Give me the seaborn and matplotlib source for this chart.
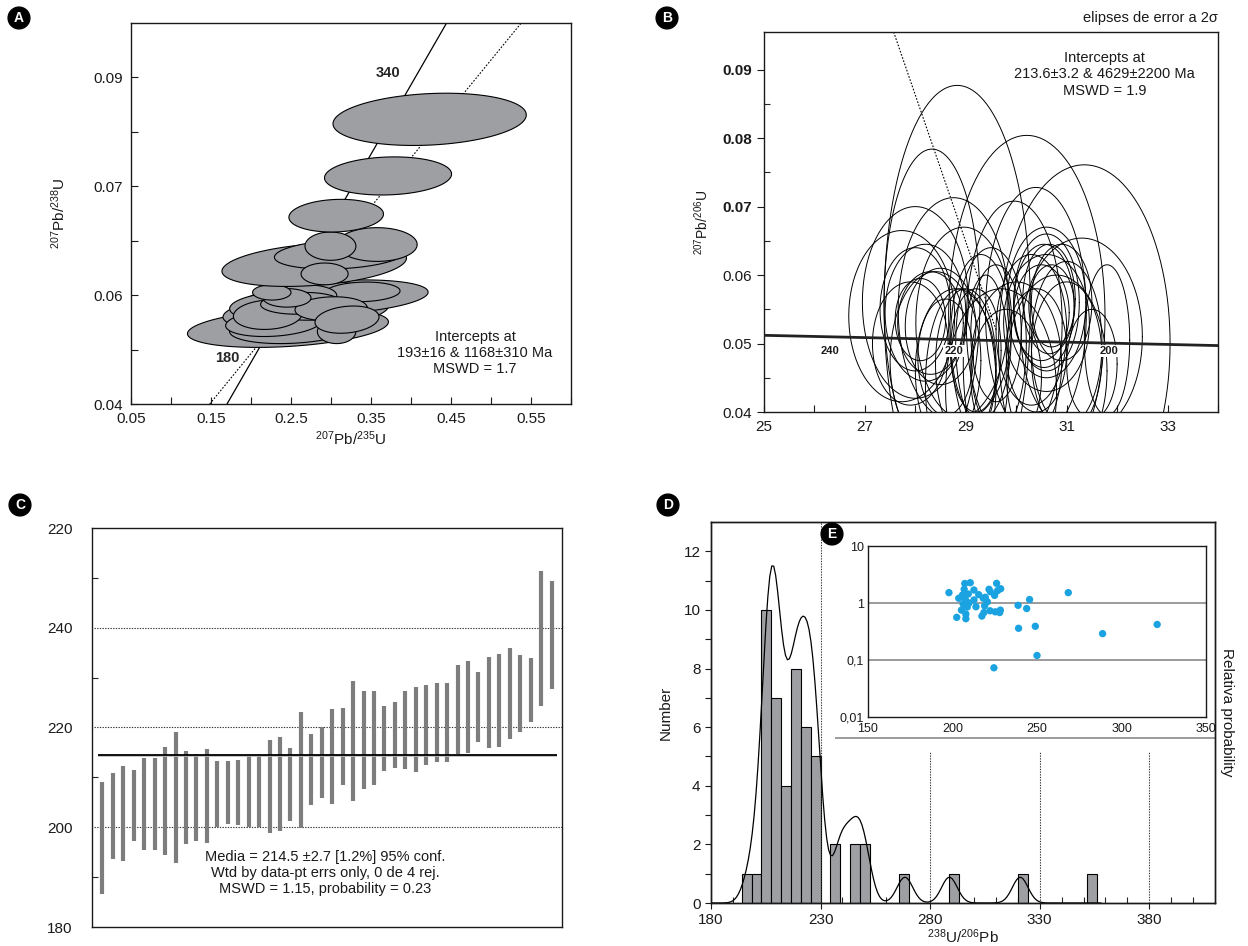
import numpy as np
import matplotlib
matplotlib.use("Agg")
import matplotlib.pyplot as plt
import seaborn as sns

# ---------------------------------------------------------------- data
# A: concordia ellipses (x centre, x half-axis, y centre, y half-axis, correlation)
a_x   = [0.2462, 0.2684, 0.3066, 0.2522, 0.2283, 0.2833, 0.2283, 0.2210, 0.3070, 0.2810,
         0.3396, 0.2642, 0.2620, 0.3000, 0.3200, 0.2450, 0.2260,
         0.2790, 0.3113, 0.3575, 0.2993, 0.2920, 0.3065, 0.3713, 0.4233]
a_sx  = [0.1256, 0.1034, 0.1148, 0.0790, 0.0600, 0.0622, 0.0550, 0.0430, 0.0240, 0.0646,
         0.0467, 0.0430, 0.0500, 0.0450, 0.0400, 0.0300, 0.0240,
         0.1153, 0.0820, 0.0502, 0.0318, 0.0294, 0.0591, 0.0794, 0.1208]
a_y   = [0.0540, 0.0570, 0.0596, 0.0539, 0.0549, 0.0573, 0.0580, 0.0564, 0.0533, 0.0600,
         0.0606, 0.0597, 0.0585, 0.0575, 0.0555, 0.0595, 0.0605,
         0.0656, 0.0675, 0.0693, 0.0690, 0.0639, 0.0746, 0.0819, 0.0923]
a_sy  = [0.0036, 0.0034, 0.0032, 0.0028, 0.0025, 0.0019, 0.0025, 0.0027, 0.0022, 0.0025,
         0.0018, 0.0022, 0.0020, 0.0022, 0.0025, 0.0017, 0.0014,
         0.0040, 0.0027, 0.0031, 0.0026, 0.0020, 0.0030, 0.0035, 0.0048]
a_rho = [0.30, 0.30, 0.30, 0.20, 0.20, 0.20, 0.20, 0.10, 0.00, 0.20,
         0.10, 0.10, 0.10, 0.10, 0.20, 0.00, 0.00,
         0.30, 0.20, 0.00, 0.00, 0.00, 0.10, 0.10, 0.17]
a_concordia = ([0.170, 0.4445], [0.040, 0.110])
a_discordia = ([0.1484, 0.5378], [0.040, 0.110])
a_xticklabels = ["0.05", "", "0.15", "", "0.2.5", "", "0.35", "", "0.45", "", "0.55", ""]
a_yticklabels = ["0.04", "", "0.06", "", "0.07", "", "0.09"]

# B: Tera-Wasserburg ellipses (x centre, x half-axis, y centre, y half-axis)
b_x  = [28.83, 28.33, 30.21, 31.35, 30.39, 28.76, 28.00, 29.96, 27.73, 28.96, 30.60, 31.30,
        30.60, 30.55, 30.65, 30.50, 30.70, 30.60, 30.90, 30.30, 31.00,
        28.20, 28.00, 28.30, 28.10, 28.50, 27.90,
        29.30, 29.50, 29.20, 29.60, 29.40,
        28.60, 28.80, 29.00, 30.00, 30.40, 31.00, 31.50, 29.80, 28.40, 30.80, 31.80, 29.70, 28.90]
b_sx = [1.45, 0.95, 1.55, 1.70, 1.00, 1.10, 1.05, 0.95, 1.05, 0.95, 0.78, 1.20,
        0.65, 0.60, 0.52, 0.55, 0.45, 0.85, 0.60, 0.70, 0.70,
        0.80, 0.70, 0.65, 0.50, 0.70, 0.75,
        0.60, 0.70, 0.50, 0.50, 0.45,
        0.55, 0.80, 0.60, 0.90, 0.60, 0.70, 0.50, 0.70, 0.90, 1.00, 0.45, 1.10, 0.70]
b_y  = [0.0555, 0.0560, 0.0540, 0.0500, 0.0545, 0.0550, 0.0560, 0.0530, 0.0540, 0.0530, 0.0560, 0.0510,
        0.0560, 0.0555, 0.0565, 0.0545, 0.0555, 0.0530, 0.0560, 0.0520, 0.0500,
        0.0545, 0.0550, 0.0530, 0.0535, 0.0525, 0.0500,
        0.0510, 0.0500, 0.0490, 0.0515, 0.0470,
        0.0480, 0.0460, 0.0470, 0.0470, 0.0490, 0.0480, 0.0470, 0.0450, 0.0475, 0.0460, 0.0505, 0.0430, 0.0440]
b_sy = [0.0322, 0.0224, 0.0264, 0.0261, 0.0183, 0.0163, 0.0140, 0.0178, 0.0125, 0.0140, 0.0110, 0.0144,
        0.0100, 0.0090, 0.0080, 0.0070, 0.0060, 0.0100, 0.0085, 0.0110, 0.0120,
        0.0100, 0.0090, 0.0075, 0.0060, 0.0085, 0.0090,
        0.0120, 0.0140, 0.0090, 0.0100, 0.0130,
        0.0085, 0.0120, 0.0110, 0.0120, 0.0090, 0.0110, 0.0080, 0.0100, 0.0130, 0.0140, 0.0110, 0.0150, 0.0140]
b_concordia = ([25.0, 34.0], [0.0512, 0.0497])
b_discordia = ([27.57, 29.60], [0.0955, 0.0520])
b_age_marks = ["240", "220", "200"]
b_age_x = [26.31, 28.77, 31.83]

# C: weighted mean plot, ages (Ma) and 2-sigma half-lengths
c_age = [197.9, 202.25, 202.75, 204.3, 204.65, 204.65, 205.25, 205.95, 205.95, 205.9,
         206.25, 206.7, 207.0, 206.95, 207.1, 207.1, 208.1, 208.65, 208.6, 211.55,
         211.6, 212.95, 214.2, 216.25, 217.25, 217.45, 217.9, 217.8, 218.55, 219.5,
         219.6, 220.45, 221.0, 221.0, 223.6, 224.15, 224.1, 225.0, 225.45, 226.8,
         226.85, 227.55, 237.8, 238.5]
c_err = [11.2, 8.65, 9.55, 7.1, 9.25, 9.25, 10.85, 13.15, 9.35, 8.7,
         9.45, 6.6, 6.3, 6.45, 7.1, 7.1, 9.3, 9.45, 7.3, 11.65,
         7.1, 7.15, 9.5, 7.75, 12.05, 9.85, 9.4, 6.5, 6.65, 7.8,
         8.5, 8.05, 7.9, 7.9, 9.0, 9.25, 7.0, 9.2, 9.35, 9.2,
         7.75, 6.45, 13.5, 10.8]
c_mean = 214.5
c_yticklabels = ["180", "200", "220", "240", "220"]

# D: histogram of 238U/206Pb ages (left bin edge, count), bin width 4.5
d_bin_left = [194.0, 198.5, 203.0, 207.5, 212.0, 216.5, 221.0, 225.5, 234.5, 243.5, 248.0,
              266.0, 288.5, 320.0, 351.5]
d_counts = [1, 1, 10, 7, 4, 8, 6, 5, 2, 2, 2, 1, 1, 1, 1]
d_binwidth = 4.5

# E: per-grain age vs ratio (log scale)
e_age = [197.9, 202.5, 203.7, 205.3, 205.9, 206.3, 206.9, 207.3, 207.7, 207.9,
         207.9, 208.7, 209.3, 209.7, 210.5, 212.7, 212.7, 213.9, 215.5, 217.4,
         218.2, 218.6, 219.0, 219.4, 220.6, 221.6, 222.4, 222.2, 224.5, 224.9,
         225.3, 226.1, 226.7, 227.9, 228.3, 228.5, 238.8, 239.1, 243.9, 245.6,
         249.0, 250.0, 268.5, 288.8, 321.1]
e_ratio = [1.52, 0.56, 1.21, 0.75, 1.38, 0.96, 1.74, 2.20, 1.13, 0.64,
           0.53, 0.85, 1.44, 1.00, 2.27, 1.69, 1.13, 0.86, 1.40, 0.59,
           1.21, 0.68, 0.89, 1.26, 1.05, 1.74, 1.58, 0.73, 0.073, 1.36,
           0.70, 2.21, 1.65, 0.68, 0.75, 1.78, 0.91, 0.36, 0.80, 1.15,
           0.39, 0.12, 1.52, 0.29, 0.42]
e_yticklabels = ["0,01", "0,1", "1", "10"]

# ---------------------------------------------------------------- style
sns.set_theme(style="ticks")
plt.rcParams["font.family"] = ["Liberation Sans", "DejaVu Sans"]
plt.rcParams["mathtext.fontset"] = "custom"
plt.rcParams["mathtext.rm"] = "Liberation Sans"
plt.rcParams["mathtext.it"] = "Liberation Sans:italic"
plt.rcParams["mathtext.bf"] = "Liberation Sans:bold"
plt.rcParams["axes.edgecolor"] = "#1a1a1a"
plt.rcParams["axes.linewidth"] = 1.0

W, H = 1248, 946
fig = plt.figure(figsize=(W / 100, H / 100), dpi=100)
fig.patch.set_facecolor("white")


def px_axes(left, top, right, bottom):
    return fig.add_axes([left / W, 1 - bottom / H, (right - left) / W, (bottom - top) / H])


def px_text(x, y, s, **kw):
    fig.text(x / W, 1 - y / H, s, **kw)


def badge(x, y, letter):
    px_text(x, y, letter, ha="center", va="center", color="white", fontsize=10,
            fontweight="bold",
            bbox=dict(boxstyle="circle,pad=0.28", fc="black", ec="black"))


def ellipse_xy(cx, sx, cy, sy, rho, n=240):
    t = np.linspace(0, 2 * np.pi, n)
    return (cx + sx * np.cos(t),
            cy + sy * (rho * np.cos(t) + np.sqrt(1 - rho ** 2) * np.sin(t)))


GREY = "#9d9fa2"
TXT = "#1a1a1a"

# ---------------------------------------------------------------- A
axA = px_axes(131, 23, 571, 404)
axA.plot(*a_concordia, color="black", lw=0.9, zorder=1)
axA.plot(*a_discordia, color="black", lw=0.8, ls=(0, (1.5, 1.5)), zorder=1)
for cx, sx, cy, sy, r in zip(a_x, a_sx, a_y, a_sy, a_rho):
    ex, ey = ellipse_xy(cx, sx, cy, sy, r)
    axA.fill(ex, ey, facecolor=GREY, edgecolor="black", lw=0.8, zorder=2)
axA.set_xlim(0.05, 0.60)
axA.set_ylim(0.04, 0.11)
axA.set_xticks(np.linspace(0.05, 0.60, 12))
axA.set_xticklabels(a_xticklabels)
axA.set_yticks(np.linspace(0.04, 0.10, 7))
axA.set_yticklabels(a_yticklabels)
axA.tick_params(direction="in", length=5, width=0.8, labelsize=11, colors=TXT, pad=6)
axA.set_xlabel(r"$^{207}$Pb/$^{235}$U", fontsize=11, color=TXT, labelpad=2)
axA.set_ylabel(r"$^{207}$Pb/$^{238}$U", fontsize=11, color=TXT, labelpad=18)
axA.text(0.3718, 0.1008, "340", ha="center", va="center", fontsize=10.5, fontweight="bold")
axA.text(0.170, 0.0484, "180", ha="center", va="center", fontsize=10.5, fontweight="bold")
axA.text(0.480, 0.0494,
         "Intercepts at\n193\u00b116 & 1168\u00b1310 Ma\nMSWD = 1.7",
         ha="center", va="center", fontsize=10.5, color=TXT, linespacing=1.2)
badge(19, 18, "A")

# ---------------------------------------------------------------- B
axB = px_axes(764, 32, 1218, 412)
axB.plot(*b_discordia, color="black", lw=0.8, ls=(0, (1.5, 1.5)), zorder=1)
for cx, sx, cy, sy in zip(b_x, b_sx, b_y, b_sy):
    ex, ey = ellipse_xy(cx, sx, cy, sy, 0.0)
    axB.plot(ex, ey, color="black", lw=0.7, zorder=2)
axB.plot(*b_concordia, color="#222222", lw=2.0, zorder=3)
for lab, x in zip(b_age_marks, b_age_x):
    axB.text(x, 0.0489, lab, ha="center", va="center", fontsize=8, fontweight="bold",
             color=TXT, zorder=4,
             bbox=dict(boxstyle="square,pad=0.12", fc="white", ec="none"))
axB.set_xlim(25, 34)
axB.set_ylim(0.04, 0.0955)
axB.set_xticks([25, 27, 29, 31, 33])
axB.set_xticks([26, 28, 30, 32, 34], minor=True)
axB.set_yticks([0.04, 0.05, 0.06, 0.07, 0.08, 0.09])
axB.set_yticks([0.045, 0.055, 0.065, 0.075, 0.085], minor=True)
axB.tick_params(axis="x", which="both", direction="in", length=5, width=0.8,
                labelsize=11, colors=TXT, pad=6)
axB.tick_params(axis="y", which="major", direction="out", length=5, width=0.8,
                labelsize=11, colors=TXT)
axB.tick_params(axis="y", which="minor", direction="in", length=4, width=0.8)
for lab in axB.get_yticklabels():
    if lab.get_text() in ("0.07", "0.08", "0.09"):
        lab.set_fontweight("bold")
axB.set_ylabel(r"$^{207}$Pb/$^{206}$U", fontsize=10, color=TXT, labelpad=8)
axB.text(31.75, 0.0893,
         "Intercepts at\n213.6\u00b13.2 & 4629\u00b12200 Ma\nMSWD = 1.9",
         ha="center", va="center", fontsize=10.5, color=TXT, linespacing=1.25)
px_text(1218, 18, "elipses de error a 2\u03c3", ha="right", va="center",
        fontsize=10.5, color=TXT)
badge(667, 18, "B")

# ---------------------------------------------------------------- C
axC = px_axes(92, 528, 562, 927)
idx = np.arange(1, len(c_age) + 1)
for level in (200, 220, 240):
    axC.axhline(level, xmin=0.005, xmax=1, color="#333333", lw=0.8, ls=(0, (1.2, 1.2)),
                zorder=1)
c_lo = np.array(c_age) - np.array(c_err)
c_hi = np.array(c_age) + np.array(c_err)
axC.vlines(idx, c_lo, c_hi, color="#7d7d7d", lw=3.0, zorder=2)
axC.hlines(c_mean - 0.25, 0.6, 44.5, color="#bbbbbb", lw=1.2, zorder=3)
axC.hlines(c_mean, 0.6, 44.5, color="black", lw=1.3, zorder=4)
axC.set_xlim(0, 45)
axC.set_ylim(180, 260)
axC.set_xticks([])
axC.set_yticks([180, 200, 220, 240, 260])
axC.set_yticklabels(c_yticklabels)
axC.set_yticks([190, 210, 230, 250], minor=True)
axC.tick_params(axis="y", which="major", length=0, labelsize=11, colors=TXT, pad=14)
axC.tick_params(axis="y", which="minor", direction="in", length=4, width=0.8)
axC.text(22.3, 190.8,
         "Media = 214.5 \u00b12.7 [1.2%] 95% conf.\n"
         "Wtd by data-pt errs only, 0 de 4 rej.\n"
         "MSWD = 1.15, probability = 0.23",
         ha="center", va="center", fontsize=10.5, color=TXT, linespacing=1.2)
badge(20, 505, "C")

# ---------------------------------------------------------------- D
axD = px_axes(711, 522, 1215, 903)
d_centres = np.array(d_bin_left) + d_binwidth / 2
sns.histplot(x=d_centres, weights=d_counts, binwidth=d_binwidth, binrange=(194, 356),
             color=GREY, edgecolor="black", linewidth=0.8, alpha=1.0, ax=axD, zorder=2)
axD.axvline(230, color="#333333", lw=0.8, ls=(0, (1.2, 1.2)), zorder=3)
axD.vlines([280, 330, 380], 0, 5.15, color="#333333", lw=0.8, ls=(0, (1.2, 1.2)), zorder=1)
axD.hlines(5.64, 236.4, 410, color="#8a8a8a", lw=1.2, zorder=1)

axR = axD.twinx()
sns.kdeplot(x=e_age, bw_adjust=0.33, cut=12, clip=(180, 358), color="black", lw=0.9, ax=axR)
peak = axR.lines[0].get_ydata().max()
axR.set_ylim(0, peak * 13 / 11.5)
axR.set_yticks([])
axR.set_ylabel("Relativa probability", rotation=-90, fontsize=11, color=TXT, labelpad=14)

axD.set_xlim(180, 410)
axD.set_ylim(0, 13)
axD.set_xticks([180, 230, 280, 330, 380])
axD.set_xticks(np.arange(190, 410, 10), minor=True)
axD.set_yticks(np.arange(0, 13, 2))
axD.set_yticks(np.arange(1, 13, 2), minor=True)
axD.tick_params(axis="x", which="major", direction="out", length=4, width=0.8,
                labelsize=11, colors=TXT)
axD.tick_params(axis="x", which="minor", direction="in", length=4, width=0.8)
axD.tick_params(axis="y", which="both", direction="out", length=4, width=0.8,
                labelsize=11, colors=TXT)
axD.set_ylabel("Number", fontsize=11, color=TXT, labelpad=8)
axD.set_xlabel(r"$^{238}$U/$^{206}$Pb", fontsize=11, color=TXT, labelpad=0)
badge(668, 505, "D")

# ---------------------------------------------------------------- E (inset)
axE = px_axes(868, 546, 1206, 717)
axE.set_facecolor("white")
axE.axhline(1, color="#8a8a8a", lw=1.2, zorder=1)
axE.axhline(0.1, color="#8a8a8a", lw=1.2, zorder=1)
sns.scatterplot(x=e_age, y=e_ratio, color="#1aa3e0", s=28, edgecolor="none",
                ax=axE, zorder=3)
axE.set_yscale("log")
axE.set_xlim(150, 350)
axE.set_ylim(0.01, 10)
axE.set_xticks([150, 200, 250, 300, 350])
axE.set_yticks([0.01, 0.1, 1, 10])
axE.set_yticklabels(e_yticklabels)
axE.yaxis.set_minor_locator(matplotlib.ticker.NullLocator())
axE.tick_params(axis="y", which="both", length=0, labelsize=9, colors=TXT, pad=3)
axE.tick_params(axis="x", which="both", length=0, labelsize=9, colors=TXT, pad=4)
for s in axE.spines.values():
    s.set_linewidth(1.0)
    s.set_color("#1a1a1a")
badge(832, 534, "E")

fig.savefig("out.png", dpi=100, facecolor="white")
